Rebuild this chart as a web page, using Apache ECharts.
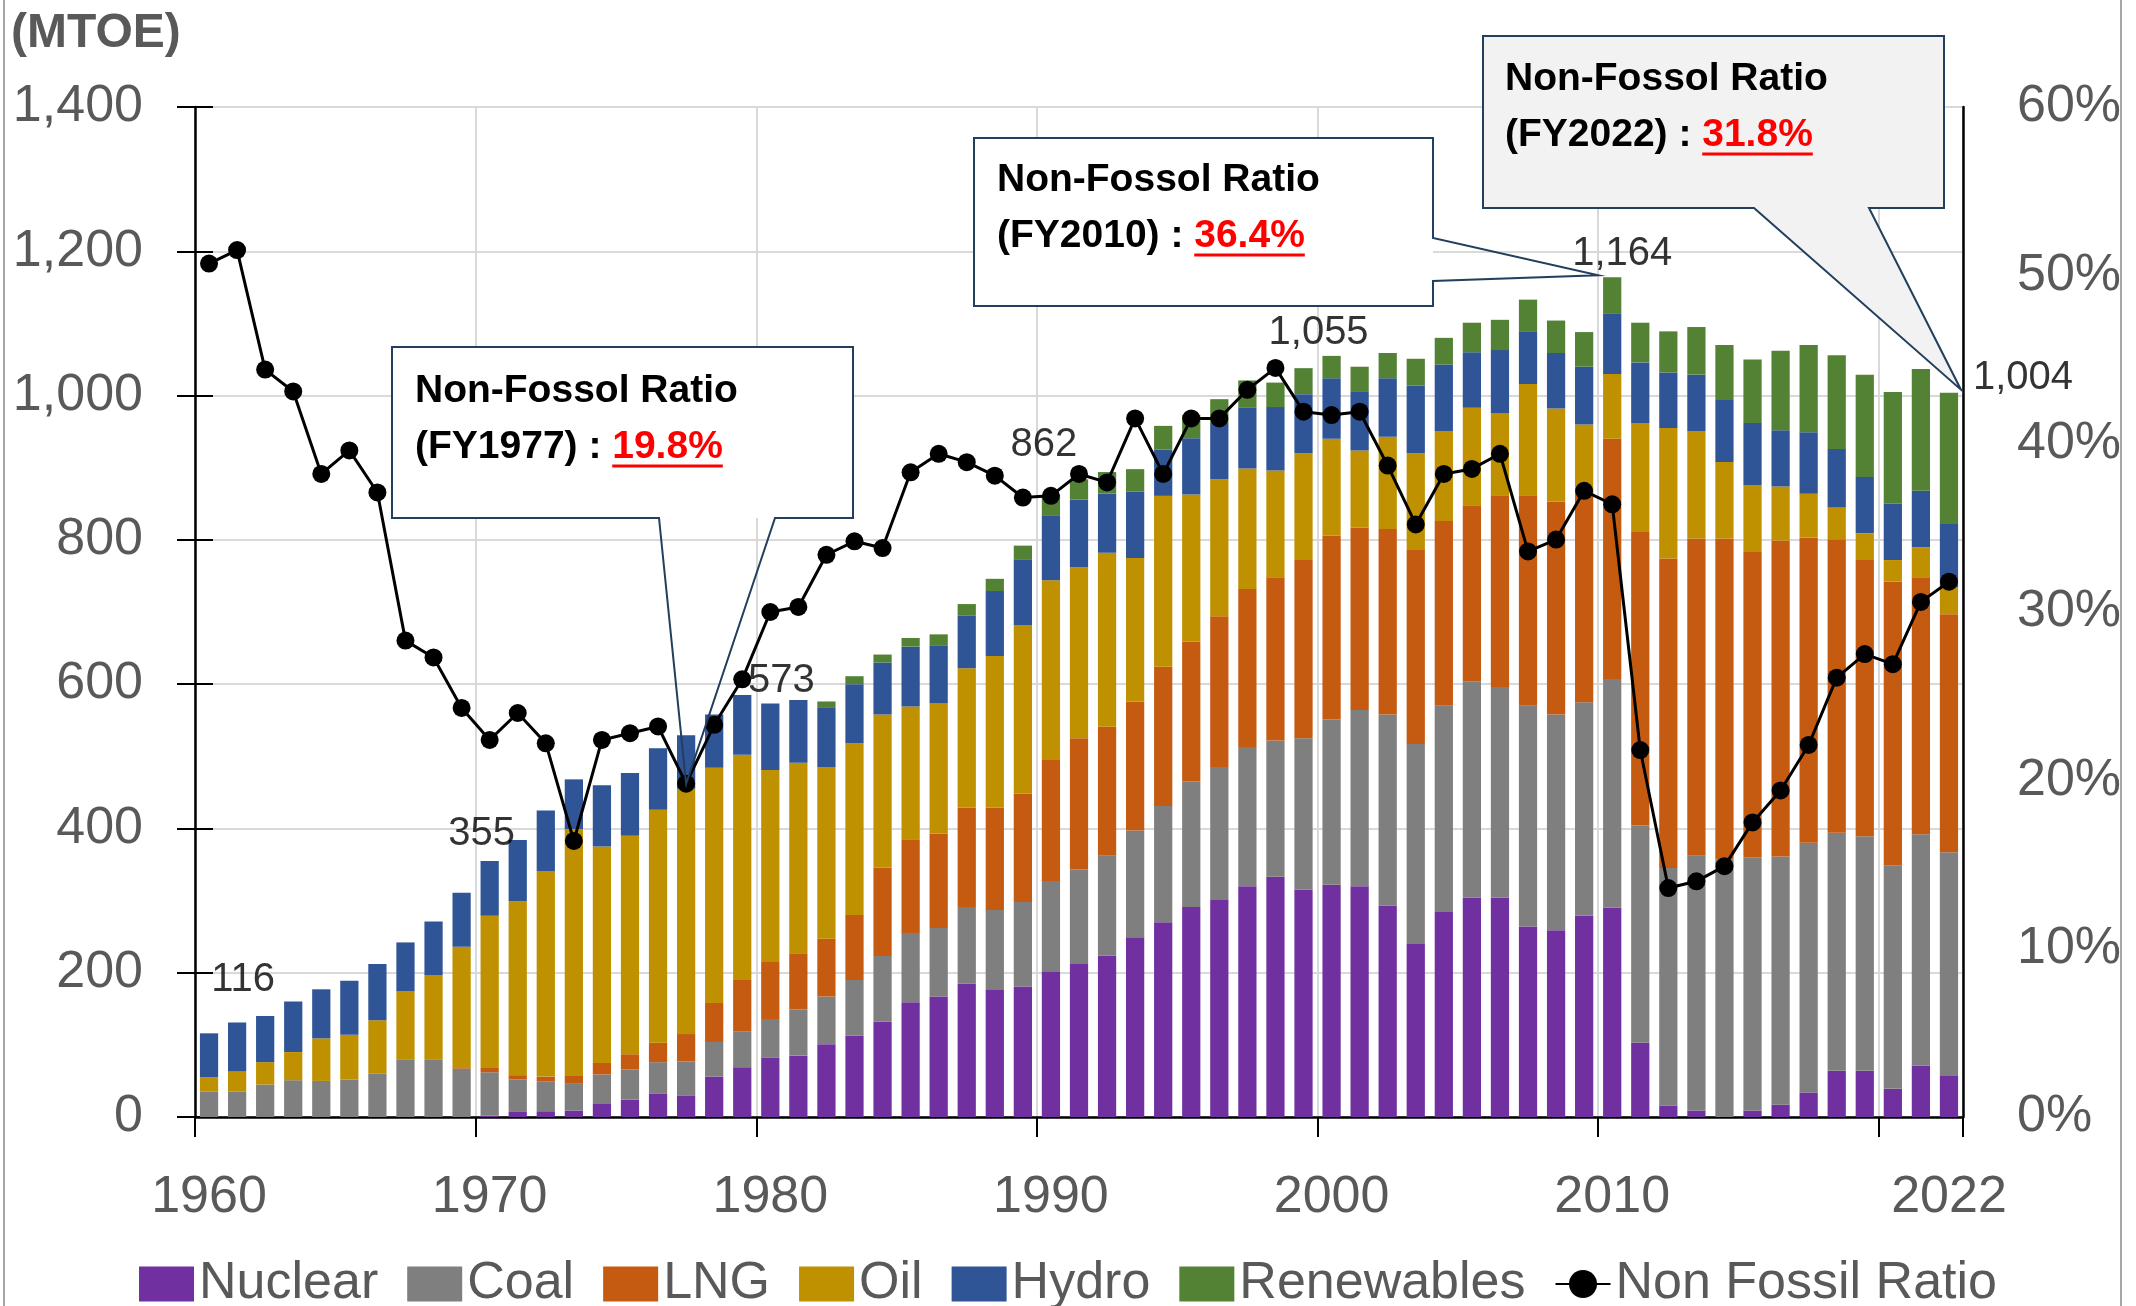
<!DOCTYPE html>
<html>
<head>
<meta charset="utf-8">
<script src="https://cdn.jsdelivr.net/npm/echarts@6/dist/echarts.min.js"></script>
<style>html,body{margin:0;padding:0;background:#fff}#c{width:2136px;height:1306px}</style>
</head>
<body>
<div id="c"></div>
<script>
// ---------------- DATA (MTOE, index 0 = FY1960) ----------------
const years = ['1960','1961','1962','1963','1964','1965','1966','1967','1968','1969',
  '1970','1971','1972','1973','1974','1975','1976','1977','1978','1979',
  '1980','1981','1982','1983','1984','1985','1986','1987','1988','1989',
  '1990','1991','1992','1993','1994','1995','1996','1997','1998','1999',
  '2000','2001','2002','2003','2004','2005','2006','2007','2008','2009',
  '2010','2011','2012','2013','2014','2015','2016','2017','2018','2019',
  '2020','2021','2022'];

const nuclear = [0,0,0,0,0,0,0,0,0,0,
  2,7,8,9,18,24,32,30,56,69,
  82,85,101,113,132,159,167,185,177,181,
  202,213,224,249,270,291,302,320,333,315,
  322,320,293,241,284,304,304,264,259,279,
  290,103,16,9,0,9,17,34,64,64,
  39,71,57];

const coal = [35,35,45,51,50,52,60,80,80,67,
  60,45,41,37,41,42,44,47,48,49,
  54,64,66,77,91,96,95,106,110,117,
  125,130,138,148,161,174,183,193,189,210,
  229,244,265,276,286,300,292,306,299,296,
  317,301,329,353,357,351,344,346,330,325,
  310,321,310];

const lng = [0,0,0,0,0,0,0,0,0,2,
  6,6,7,11,16,21,27,38,54,72,
  79,78,80,90,123,130,131,138,142,150,
  168,182,179,179,193,194,209,219,226,247,
  255,253,257,269,256,244,266,292,295,298,
  333,407,429,440,445,423,438,423,407,383,
  393,356,330];

const oil = [20,28,31,39,59,62,74,94,117,167,
  211,241,285,342,300,303,323,340,326,312,
  266,264,238,238,212,184,180,193,210,234,
  249,237,241,199,237,204,190,167,148,148,
  134,107,128,134,125,135,113,154,129,87,
  90,151,181,149,106,93,75,61,44,37,
  30,42,37];

const hydro = [61,68,64,70,68,75,78,68,74,75,
  76,85,84,69,85,87,85,74,74,83,
  92,87,82,82,72,83,81,73,90,91,
  90,94,82,92,64,78,78,84,88,82,
  84,81,81,94,92,77,88,73,77,80,
  84,84,77,78,86,86,78,85,81,78,
  78,78,88];

const renewables = [0,0,0,0,0,0,0,0,0,0,
  0,0,0,0,0,0,0,0,0,0,
  0,0,9,11,11,12,15,16,17,19,
  28,28,30,31,33,32,33,38,34,36,
  31,35,35,37,37,41,42,44,45,48,
  50,55,57,66,76,88,110,121,130,142,
  155,169,182];

// Non-fossil ratio (%)
const ratio = [50.7,51.5,44.4,43.1,38.2,39.6,37.1,28.3,27.3,24.3,
  22.4,24.0,22.2,16.4,22.4,22.8,23.2,19.8,23.3,26.0,
  30.0,30.3,33.4,34.2,33.8,38.3,39.4,38.9,38.1,36.8,
  36.9,38.2,37.7,41.5,38.2,41.5,41.5,43.2,44.5,41.9,
  41.7,41.9,38.7,35.2,38.2,38.5,39.4,33.6,34.3,37.2,
  36.4,21.8,13.6,14.0,14.9,17.5,19.4,22.1,26.1,27.5,
  26.9,30.6,31.8];

const xTickLabels = ['1960','1970','1980','1990','2000','2010','2022'];
const totalLabelYears = ['1960','1970','1980','1990','2000','2010','2022'];
const calloutYears = ['1977','2010','2022'];

// ---------------- STYLE / LAYOUT ----------------
const FONT = '"Liberation Sans", Arial, sans-serif';
const GRAY = '#595959';
const names = ['Nuclear','Coal','LNG','Oil','Hydro','Renewables'];
const colors = ['#7030A0','#7F7F7F','#C55A11','#BF9000','#2F5597','#548235'];
const barSeriesData = [nuclear, coal, lng, oil, hydro, renewables];
const labelOffsets = {'1960':[34,-53],'1970':[-8,-27],'1980':[11,-23],'1990':[-7,-50],
  '2000':[-13,-23],'2010':[10,-23],'2022':[74,-15]};

const totals = years.map((y,i)=>barSeriesData.reduce((s,a)=>s+a[i],0));

const chart = echarts.init(document.getElementById('c'), null, {renderer:'canvas'});

const decadeTick = (idx) => idx % 10 === 0;

const series = barSeriesData.map((d,k)=>({
  name: names[k], type:'bar', stack:'total', data:d,
  barCategoryGap:'35%', itemStyle:{color:colors[k]}, z:2
}));
series.push({
  name:'Non Fossil Ratio', type:'line', yAxisIndex:1, data:ratio,
  symbol:'circle', symbolSize:18, lineStyle:{color:'#000', width:3},
  itemStyle:{color:'#000'}, z:5
});
series.push({
  name:'totalLabels', type:'scatter', yAxisIndex:0, symbolSize:1, silent:true,
  itemStyle:{color:'rgba(0,0,0,0)'},
  data: totalLabelYears.map(y=>{
    const i = years.indexOf(y);
    return {value:[i, totals[i]], label:{offset:labelOffsets[y]}};
  }),
  label:{show:true, position:'inside', color:'#000', fontSize:40, fontFamily:FONT,
    formatter:(p)=>p.value[1].toLocaleString('en-US')},
  z:10
});

const option = {
  animation:false,
  backgroundColor:'#fff',
  grid:{left:195, right:173, top:107, bottom:189, show:true, borderColor:'#000', borderWidth:2},
  legend:{
    data: names.map(n=>({name:n, icon:'rect'})).concat([{name:'Non Fossil Ratio'}]),
    left:'center', top:1250, itemWidth:55, itemHeight:35, itemGap:29,
    textStyle:{fontSize:52, color:GRAY, fontFamily:FONT, lineHeight:58}
  },
  xAxis:{
    type:'category', data:years, boundaryGap:true,
    axisLine:{show:true, lineStyle:{color:'#000', width:2.5}},
    axisTick:{show:true, interval:decadeTick, length:20, inside:false, lineStyle:{color:'#000', width:2}},
    axisLabel:{interval:(i,v)=>xTickLabels.indexOf(v)>=0, fontSize:52, color:GRAY, fontFamily:FONT, margin:55},
    splitLine:{show:true, interval:decadeTick, lineStyle:{color:'#D9D9D9', width:2}}
  },
  yAxis:[
    {type:'value', min:0, max:1400, interval:200, position:'left',
      axisLine:{show:true, lineStyle:{color:'#000', width:2.5}},
      axisTick:{show:true, length:18, lineStyle:{color:'#000', width:2}},
      axisLabel:{fontSize:52, color:GRAY, fontFamily:FONT, margin:52,
        formatter:(v)=>v.toLocaleString('en-US')},
      splitLine:{show:true, lineStyle:{color:'#D9D9D9', width:2}}},
    {type:'value', min:0, max:60, interval:10, position:'right',
      axisLine:{show:true, lineStyle:{color:'#000', width:2.5}},
      axisTick:{show:false},
      axisLabel:{fontSize:52, color:GRAY, fontFamily:FONT, margin:54, formatter:'{value}%'},
      splitLine:{show:false}},
    {type:'value', min:0, max:1400, interval:200, position:'left',
      axisLine:{show:false}, axisLabel:{show:false}, splitLine:{show:false},
      axisTick:{show:true, inside:true, length:18, lineStyle:{color:'#000', width:2}}}
  ],
  series: series
};
chart.setOption(option);

// ---------------- CALLOUTS ----------------
const ctx = document.createElement('canvas').getContext('2d');
const CFONT = 'bold 39px "Liberation Sans", Arial, sans-serif';
function tw(t){ ctx.font = CFONT; return ctx.measureText(t).width; }

function tipFor(year){
  const i = years.indexOf(year);
  if (year === '1977') return chart.convertToPixel({seriesIndex:6}, [i, ratio[i]]);
  const p = chart.convertToPixel({seriesIndex:0}, [i, totals[i]]);
  if (year === '2010') return [p[0]-14, p[1]-2];
  return [p[0]+12, p[1]-3];
}

const callouts = [
  {year:'1977', l:392, t:347, r:853, b:518, side:'bottom', g1:659, g2:775, fill:'#FFFFFF', wedgeFill:false, tx:415, y1:391, y2:447},
  {year:'2010', l:974, t:138, r:1433, b:306, side:'right', g1:238, g2:281, fill:'#FFFFFF', wedgeFill:false, tx:997, y1:180, y2:236},
  {year:'2022', l:1483, t:36, r:1944, b:208, side:'bottom', g1:1754, g2:1869, fill:'#F2F2F2', wedgeFill:true, tx:1505, y1:79, y2:135}
];

const graphics = [];
graphics.push({type:'line', z:100, shape:{x1:4, y1:0, x2:4, y2:1306}, style:{stroke:'#A6A6A6', lineWidth:2}});
graphics.push({type:'line', z:100, shape:{x1:2121, y1:0, x2:2121, y2:1306}, style:{stroke:'#A6A6A6', lineWidth:2}});
graphics.push({type:'text', z:100, x:11, y:34, style:{text:'(MTOE)', font:'bold 48px "Liberation Sans", Arial, sans-serif', fill:GRAY, verticalAlign:'middle', align:'left'}});

callouts.forEach(c=>{
  const tip = tipFor(c.year);
  let pts;
  if (c.side === 'bottom') {
    pts = [[c.l,c.t],[c.r,c.t],[c.r,c.b],[c.g2,c.b],tip,[c.g1,c.b],[c.l,c.b]];
  } else {
    pts = [[c.l,c.t],[c.r,c.t],[c.r,c.g1],tip,[c.r,c.g2],[c.r,c.b],[c.l,c.b]];
  }
  if (!c.wedgeFill) {
    graphics.push({type:'rect', z:100, shape:{x:c.l, y:c.t, width:c.r-c.l, height:c.b-c.t}, style:{fill:c.fill}});
    graphics.push({type:'polygon', z:101, shape:{points:pts}, style:{fill:'none', stroke:'#223F5F', lineWidth:2}});
  } else {
    graphics.push({type:'polygon', z:101, shape:{points:pts}, style:{fill:c.fill, stroke:'#223F5F', lineWidth:2}});
  }
  const i = years.indexOf(c.year);
  const pre = '(FY' + c.year + ') : ';
  const val = ratio[i].toFixed(1) + '%';
  const preW = tw(pre), valW = tw(val);
  graphics.push({type:'text', z:102, x:c.tx, y:c.y1, style:{text:'Non-Fossol Ratio', font:CFONT, fill:'#000', verticalAlign:'middle', align:'left'}});
  graphics.push({type:'text', z:102, x:c.tx, y:c.y2, style:{text:pre, font:CFONT, fill:'#000', verticalAlign:'middle', align:'left'}});
  graphics.push({type:'text', z:102, x:c.tx+preW, y:c.y2, style:{text:val, font:CFONT, fill:'#FF0000', verticalAlign:'middle', align:'left'}});
  graphics.push({type:'line', z:102, shape:{x1:c.tx+preW, y1:c.y2+19, x2:c.tx+preW+valW, y2:c.y2+19}, style:{stroke:'#FF0000', lineWidth:3}});
});

chart.setOption({graphic: graphics});
</script>
</body>
</html>
